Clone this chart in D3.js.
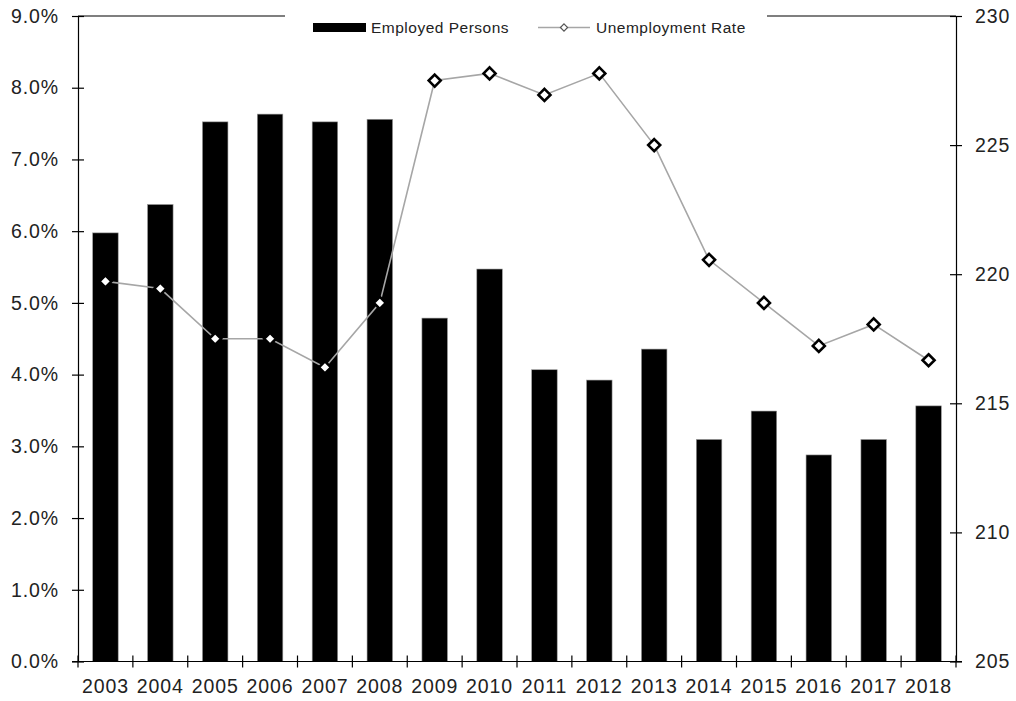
<!DOCTYPE html>
<html>
<head>
<meta charset="utf-8">
<script src="https://cdn.jsdelivr.net/npm/d3@7/dist/d3.min.js"></script>
<style>
  html, body { margin: 0; padding: 0; background: #fff; }
  svg { display: block; font-family: "Liberation Sans", Arial, sans-serif; }
</style>
</head>
<body>
<svg id="chart" width="1016" height="701"></svg>
<script>
// Years on the category axis
const years = ["2003","2004","2005","2006","2007","2008","2009","2010",
               "2011","2012","2013","2014","2015","2016","2017","2018"];
// Employed persons (right axis)
const employed = [221.6, 222.7, 225.9, 226.2, 225.9, 226.0, 218.3, 220.2,
                  216.3, 215.9, 217.1, 213.6, 214.7, 213.0, 213.6, 214.9];
// Unemployment rate in percent (left axis)
const unemployment = [5.3, 5.2, 4.5, 4.5, 4.1, 5.0, 8.1, 8.2,
                      7.9, 8.2, 7.2, 5.6, 5.0, 4.4, 4.7, 4.2];
// Axis ticks
const leftTicks = [0, 1, 2, 3, 4, 5, 6, 7, 8, 9];
const rightTicks = [205, 210, 215, 220, 225, 230];
const seriesNames = ["Employed Persons", "Unemployment Rate"];

const svg = d3.select("#chart");
const margin = { top: 16, right: 60, bottom: 39.5, left: 78 };
const W = 1016, H = 701;
const x0 = margin.left, x1 = W - margin.right;
const y0 = H - margin.bottom, y1 = margin.top;

const x = d3.scaleBand().domain(years).range([x0, x1]).paddingInner(0.535).paddingOuter(0.2675);
const xTicks = d3.scaleBand().domain(years).range([x0, x1]);
const yL = d3.scaleLinear().domain([0, 9]).range([y0, y1]);
const yR = d3.scaleLinear().domain([205, 230]).range([y0, y1]);

// Bars
svg.append("g").selectAll("rect")
  .data(years)
  .join("rect")
  .attr("x", d => x(d))
  .attr("width", x.bandwidth())
  .attr("y", (d, i) => yR(employed[i]))
  .attr("height", (d, i) => y0 - yR(employed[i]))
  .attr("fill", "#000")
  .attr("stroke", "#9a9a9a")
  .attr("stroke-width", 0.6);

// Top frame line, interrupted by the legend
svg.append("line").attr("x1", x0).attr("x2", 285).attr("y1", y1).attr("y2", y1)
  .attr("stroke", "#000").attr("stroke-width", 1.2);
svg.append("line").attr("x1", 767).attr("x2", x1).attr("y1", y1).attr("y2", y1)
  .attr("stroke", "#000").attr("stroke-width", 1.2);

// Left axis
const leftAxis = d3.axisLeft(yL).tickValues(leftTicks)
  .tickFormat(d => d3.format(".1f")(d) + "%").tickSizeInner(6).tickSizeOuter(0).tickPadding(13);
const gL = svg.append("g").attr("transform", `translate(${x0},0)`).call(leftAxis);
gL.selectAll(".tick line").attr("x2", 6).attr("x1", -6);

// Right axis
const rightAxis = d3.axisRight(yR).tickValues(rightTicks)
  .tickSizeInner(6).tickSizeOuter(0).tickPadding(13);
const gR = svg.append("g").attr("transform", `translate(${x1},0)`).call(rightAxis);
gR.selectAll(".tick line").attr("x1", -6).attr("x2", 6);

// Bottom axis: ticks on category boundaries, labels centered in each band
const gB = svg.append("g").attr("transform", `translate(0,${y0})`);
gB.append("line").attr("x1", x0 - 6).attr("x2", x1 + 6).attr("stroke", "#000").attr("stroke-width", 1.2);
const boundaries = years.map(d => xTicks(d)).concat([x1]);
gB.selectAll("line.tk").data(boundaries).join("line").attr("class", "tk")
  .attr("x1", d => d).attr("x2", d => d).attr("y1", -6).attr("y2", 6)
  .attr("stroke", "#000").attr("stroke-width", 1.2);
gB.selectAll("text").data(years).join("text")
  .attr("x", d => xTicks(d) + xTicks.bandwidth() / 2)
  .attr("y", 31)
  .attr("text-anchor", "middle")
  .attr("font-size", 19.5)
  .attr("letter-spacing", 0.9)
  .attr("fill", "#222")
  .text(d => d);

[gL, gR].forEach(g => {
  g.select(".domain").attr("stroke", "#000").attr("stroke-width", 1.2);
  g.selectAll(".tick line").attr("stroke", "#000").attr("stroke-width", 1.2);
  g.selectAll(".tick text").attr("font-size", 19.5).attr("fill", "#222")
    .attr("letter-spacing", 0.9)
    .attr("font-family", "Liberation Sans, Arial, sans-serif");
});

// Unemployment rate line
const line = d3.line()
  .x((d, i) => xTicks(years[i]) + xTicks.bandwidth() / 2)
  .y(d => yL(d));
svg.append("path").datum(unemployment)
  .attr("d", line).attr("fill", "none")
  .attr("stroke", "#a6a6a6").attr("stroke-width", 1.6);

const diamondPath = (s) => `M0,${-s}L${s},0L0,${s}L${-s},0Z`;
svg.append("g").selectAll("path")
  .data(unemployment)
  .join("path")
  .attr("transform", (d, i) => `translate(${xTicks(years[i]) + xTicks.bandwidth() / 2},${yL(d)})`)
  .attr("d", diamondPath(6))
  .attr("fill", "#fff")
  .attr("stroke", "#000")
  .attr("stroke-width", 2.6);

// Legend
const lg = svg.append("g");
lg.append("rect").attr("x", 313).attr("y", 23).attr("width", 53).attr("height", 9).attr("fill", "#000");
lg.append("text").attr("x", 371).attr("y", 33).attr("font-size", 15.5).attr("letter-spacing", 0.5)
  .attr("fill", "#222").text(seriesNames[0]);
lg.append("line").attr("x1", 538).attr("x2", 590).attr("y1", 27.5).attr("y2", 27.5)
  .attr("stroke", "#a6a6a6").attr("stroke-width", 1.4);
lg.append("path").attr("transform", "translate(564,27.5)").attr("d", diamondPath(3.6))
  .attr("fill", "#fff").attr("stroke", "#555").attr("stroke-width", 1.2);
lg.append("text").attr("x", 596).attr("y", 33).attr("font-size", 15.5).attr("letter-spacing", 0.5)
  .attr("fill", "#222").text(seriesNames[1]);
</script>
</body>
</html>
